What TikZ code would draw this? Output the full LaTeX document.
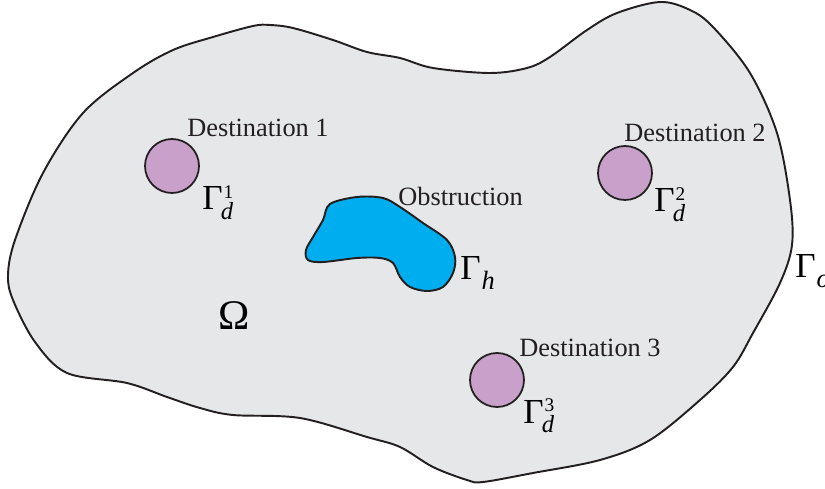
\documentclass[tikz,border=0pt]{standalone}
\usepackage{fontspec}
\setmainfont{Liberation Serif}
\definecolor{regionc}{RGB}{230,231,232}
\definecolor{obstc}{RGB}{0,174,239}
\definecolor{destc}{RGB}{200,160,201}
\definecolor{txtc}{RGB}{35,31,32}
\newcommand\Gsd[2]{Γ\kern0.5pt\rlap{\raisebox{6.5pt}{\fontsize{11}{12}\selectfont #1}}\kern-1.5pt\raisebox{-5.5pt}{\fontsize{14}{16}\selectfont\itshape #2}}
\newcommand\Gsub[1]{Γ\kern0.5pt\raisebox{-5.5pt}{\fontsize{15}{16}\selectfont\itshape #1}}
\begin{document}
\begin{tikzpicture}[x=0.02cm,y=-0.02cm,
  lbl/.style={inner sep=0pt, anchor=base west, text=txtc, font=\fontsize{15}{18}\selectfont},
  gam/.style={inner sep=0pt, anchor=base west, text=black, font=\fontsize{20}{24}\selectfont},
  dest/.style={circle, draw=txtc, line width=1pt, fill=destc, minimum size=1.08cm, inner sep=0pt},
  bnd/.style={draw=txtc, line width=1.1pt}
]
\useasboundingbox (0,0) rectangle (825,489);
% outer region
\draw[bnd, fill=regionc] plot[smooth cycle, tension=0.55] coordinates {
 (15,240) (43,173) (83,113) (133,73) (173,50) (213,37) (253,26) (270,25) (293,28)
 (333,40) (367,52) (400,58) (433,68) (490,73) (527,68) (550,57) (587,30) (617,13)
 (660,2) (690,10) (713,27) (750,73) (777,133) (790,200) (792,245) (780,283)
 (753,333) (733,367) (700,400) (650,440) (600,460) (533,473) (483,482) (467,480)
 (433,467) (400,447) (367,437) (300,418) (233,415) (200,408) (167,397) (127,383)
 (67,373) (35,342) (13,300) (8,275)};
% obstruction
\draw[bnd, fill=obstc] plot[smooth cycle, tension=0.55] coordinates {
 (330,204) (357,197) (383,198) (400,207) (423,223) (447,240) (455,257) (453,273)
 (443,287) (427,291) (410,287) (400,277) (393,263) (380,258) (357,258) (323,262)
 (308,260) (306,250) (313,237) (323,220)};
% destinations
\node[dest] (d1) at (172,166) {};
\node[dest] (d2) at (625,173) {};
\node[dest] (d3) at (497,380) {};
% labels
\node[lbl] (t1) at (187,137) {Destination 1};
\node[lbl] (t2) at (624,142) {Destination 2};
\node[lbl] (t3) at (519,357) {Destination 3};
\node[lbl] (to) at (398,206) {Obstruction};
\node[gam] (g1) at (202,210) {\Gsd{1}{d}};
\node[gam] (g2) at (654,212) {\Gsd{2}{d}};
\node[gam] (g3) at (523,423) {\Gsd{3}{d}};
\node[gam] (gh) at (460,280) {\Gsub{h}};
\node[gam] (go) at (795,278) {\Gsub{o}};
\node[inner sep=0pt, anchor=base, font=\fontsize{24}{28}\selectfont] (om) at (234,330) {Ω};
\end{tikzpicture}
\end{document}
